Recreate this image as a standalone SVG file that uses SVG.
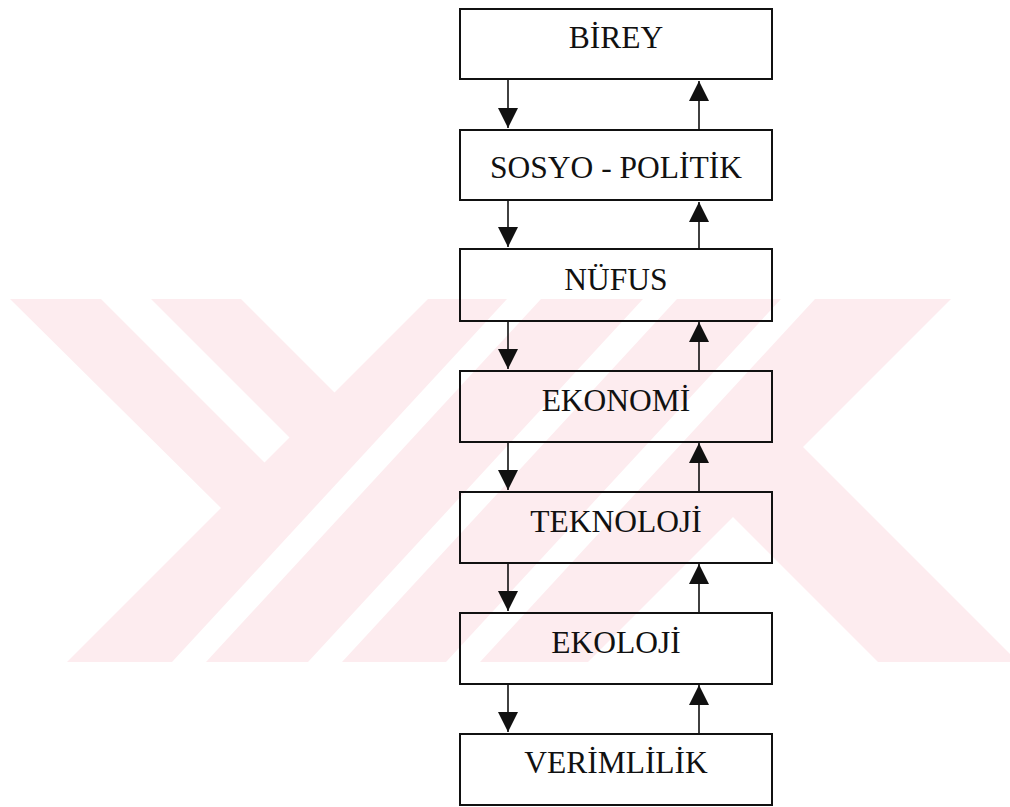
<svg xmlns="http://www.w3.org/2000/svg" width="1010" height="807" viewBox="0 0 1010 807">
  <style>
    .wm { fill: #fdecef; }
    .wmw { fill: #ffffff; }
    .box { fill: none; stroke: #111; stroke-width: 2; }
    .lbl { font-family: "Liberation Serif", "Times New Roman", serif; font-size: 31.5px; fill: #111; text-anchor: middle; }
    .conn { stroke: #111; stroke-width: 1.6; fill: none; marker-end: url(#arrow); }
  </style>
  <defs>
    <marker id="arrow" markerUnits="userSpaceOnUse" markerWidth="20" markerHeight="20" refX="20" refY="10" orient="auto" viewBox="0 0 20 20">
      <path d="M0,0 L20,10 L0,20 Z" fill="#111"/>
    </marker>
  </defs>
  <rect width="1010" height="807" fill="#ffffff"/>

  <g id="watermark">
    <polygon class="wm" points="10,299 951,299 803,447 1010,654 1010,662 878,662 733,517 588,662 67,662 221,508"/>
    <polygon class="wmw" points="101,299 151,299 289.5,437.5 264.5,462.5"/>
    <polygon class="wmw" points="241,299 428,299 334.5,392.5"/>
    <polygon class="wmw" points="507,299 541,299 206,662 172,662"/>
    <polygon class="wmw" points="643,299 677,299 342,662 308,662"/>
    <polygon class="wmw" points="781,299 815,299 480,662 446,662"/>
  </g>

  <g id="connectors">
    <line class="conn" x1="508" y1="80" x2="508" y2="128"/>
    <line class="conn" x1="699" y1="130" x2="699" y2="81"/>
    <line class="conn" x1="508" y1="201" x2="508" y2="247"/>
    <line class="conn" x1="699" y1="249" x2="699" y2="202"/>
    <line class="conn" x1="508" y1="320" x2="508" y2="369"/>
    <line class="conn" x1="699" y1="371" x2="699" y2="322"/>
    <line class="conn" x1="508" y1="442" x2="508" y2="490"/>
    <line class="conn" x1="699" y1="492" x2="699" y2="443"/>
    <line class="conn" x1="508" y1="563" x2="508" y2="611"/>
    <line class="conn" x1="699" y1="613" x2="699" y2="564"/>
    <line class="conn" x1="508" y1="684" x2="508" y2="732"/>
    <line class="conn" x1="699" y1="734" x2="699" y2="685"/>
  </g>

  <g id="node-birey">
    <rect class="box" x="460" y="9" width="312" height="70"/>
    <text class="lbl" x="616" y="48">BİREY</text>
  </g>
  <g id="node-sosyo-politik">
    <rect class="box" x="460" y="130" width="312" height="70"/>
    <text class="lbl" x="616" y="178">SOSYO - POLİTİK</text>
  </g>
  <g id="node-nufus">
    <rect class="box" x="460" y="249" width="312" height="72"/>
    <text class="lbl" x="616" y="290">NÜFUS</text>
  </g>
  <g id="node-ekonomi">
    <rect class="box" x="460" y="371" width="312" height="71"/>
    <text class="lbl" x="616" y="411">EKONOMİ</text>
  </g>
  <g id="node-teknoloji">
    <rect class="box" x="460" y="492" width="312" height="71"/>
    <text class="lbl" x="616" y="532">TEKNOLOJİ</text>
  </g>
  <g id="node-ekoloji">
    <rect class="box" x="460" y="613" width="312" height="71"/>
    <text class="lbl" x="616" y="653">EKOLOJİ</text>
  </g>
  <g id="node-verimlilik">
    <rect class="box" x="460" y="734" width="312" height="71"/>
    <text class="lbl" x="616" y="773">VERİMLİLİK</text>
  </g>
</svg>
